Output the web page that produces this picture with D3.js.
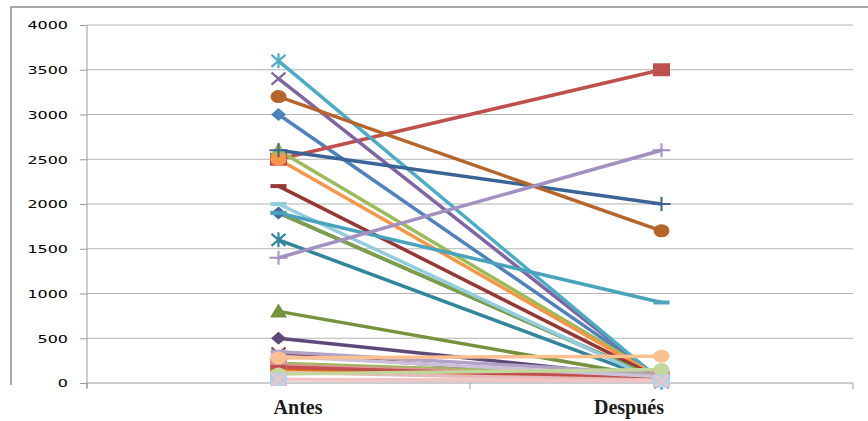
<!DOCTYPE html>
<html>
<head>
<meta charset="utf-8">
<script src="https://cdn.jsdelivr.net/npm/d3@7"></script>
<style>
  body { margin: 0; background: #fff; }
  svg { display: block; }
</style>
</head>
<body>
<svg id="chart" width="868" height="421"></svg>
<script>
// Categories on the x axis
const periods = ["Antes", "Después"];
// Value axis ticks
const yTicks = [0, 500, 1000, 1500, 2000, 2500, 3000, 3500, 4000];

// One entry per series: value before and after
const antes   = [3000, 2500, 2600, 3400, 3600, 2500, 2600, 2200, 1900, 500, 1600, 3200, 1900, 2000, 1900, 1400, 800, 330, 350, 220, 200, 150, 180, 120, 300, 100, 280, 40, 40];
const despues = [  40, 3500,   60,   30,   20,   50, 2000,   40,   30,  50,   10, 1700,   30,    0,  900, 2600,  50,  20, 100,  80,  60,  40,  50,  30,  70, 150, 300, 20, 25];
const colors  = ["#4F81BD", "#C0504D", "#9BBB59", "#8064A2", "#4BACC6", "#F79646",
                 "#3A6396", "#953735", "#3E6AA0", "#5F497A", "#31859C", "#B5652A",
                 "#7F9F45", "#93CDDD", "#4AA3BC", "#A390C2", "#76923C", "#8E3B3B",
                 "#B3A2C7", "#9BBB59", "#D99694", "#E46C0A", "#C0504D", "#E6B9B8",
                 "#CCC0DA", "#C3D69B", "#FAC090", "#B7D0E8", "#F2C4C2"];
const markers = ["diamond", "square", "triangle", "x", "star", "circle",
                 "plus", "dash", "diamond", "diamond", "star", "circle",
                 "dash", "dash", "dash", "plus", "triangle", "x",
                 "dash", "dash", "square", "dash", "dash", "dash",
                 "dash", "circle", "circle", "square", "x"];

const svg = d3.select("#chart");
const plot = { left: 87, right: 853, top: 25, bottom: 383 };

const x = d3.scalePoint().domain(periods).range([plot.left, plot.right]).padding(0.5);
const y = d3.scaleLinear().domain([0, 4000]).range([plot.bottom, plot.top]);

// Outer chart frame (left and top edges)
svg.append("path")
  .attr("d", "M11,385 L11,7 L868,7")
  .attr("fill", "none")
  .attr("stroke", "#8c8c8c")
  .attr("stroke-width", 1.5);

// Horizontal gridlines
svg.append("g")
  .selectAll("line")
  .data(yTicks.filter(d => d > 0))
  .join("line")
  .attr("x1", plot.left).attr("x2", plot.right)
  .attr("y1", d => y(d)).attr("y2", d => y(d))
  .attr("stroke", "#b4b4b4")
  .attr("stroke-width", 1.2);

// Value axis
const yAxis = svg.append("g")
  .attr("transform", `translate(${plot.left},0)`)
  .call(d3.axisLeft(y).tickValues(yTicks).tickFormat(d3.format("d")).tickSize(7).tickPadding(0));
yAxis.select(".domain").attr("stroke", "#9a9a9a").attr("d", `M0,${plot.top}V${plot.bottom + 5}`);
yAxis.selectAll(".tick line").attr("stroke", "#9a9a9a");
yAxis.selectAll(".tick text")
  .attr("x", -19 / 1.45)
  .attr("dy", "0.36em")
  .attr("transform", "scale(1.45,1)")
  .attr("fill", "#000")
  .style("font-family", "'DejaVu Sans', Verdana, sans-serif")
  .style("font-size", "11px");

// Category axis
const xAxis = svg.append("g")
  .attr("transform", `translate(0,${plot.bottom})`)
  .call(d3.axisBottom(x).tickSize(0).tickPadding(0));
xAxis.select(".domain").attr("stroke", "#9a9a9a").attr("d", `M${plot.left},0H${plot.right}`);
// Boundary tick marks between categories
xAxis.append("g").selectAll("line")
  .data([plot.left, (plot.left + plot.right) / 2, plot.right])
  .join("line")
  .attr("x1", d => d).attr("x2", d => d)
  .attr("y1", 0).attr("y2", 6)
  .attr("stroke", "#9a9a9a");
const labelShift = { "Antes": 19, "Después": -33 };
xAxis.selectAll(".tick text")
  .attr("y", 0)
  .attr("dy", 31)
  .attr("dx", d => labelShift[d])
  .attr("fill", "#1a1a1a")
  .style("font-family", "'Liberation Serif', 'Times New Roman', serif")
  .style("font-weight", "bold")
  .style("font-size", "20px");

// Series lines and markers
const series = antes.map((a, i) => ({ values: [a, despues[i]], color: colors[i], marker: markers[i] }));

const line = d3.line().x((d, i) => x(periods[i])).y(d => y(d));

function drawMarker(g, type, color) {
  switch (type) {
    case "diamond":
      g.append("path").attr("d", "M0,-6.5L7.5,0L0,6.5L-7.5,0Z").attr("fill", color);
      break;
    case "square":
      g.append("rect").attr("x", -8.5).attr("y", -6.5).attr("width", 17).attr("height", 13).attr("fill", color);
      break;
    case "triangle":
      g.append("path").attr("d", "M0,-8L8.5,6L-8.5,6Z").attr("fill", color);
      break;
    case "circle":
      g.append("ellipse").attr("rx", 8).attr("ry", 6.5).attr("fill", color);
      break;
    case "x":
      g.append("path").attr("d", "M-7,-6L7,6M-7,6L7,-6")
        .attr("stroke", color).attr("stroke-width", 2.2).attr("fill", "none");
      break;
    case "star":
      g.append("path").attr("d", "M-7,-6L7,6M-7,6L7,-6M0,-7.5L0,7.5")
        .attr("stroke", color).attr("stroke-width", 2.2).attr("fill", "none");
      break;
    case "plus":
      g.append("path").attr("d", "M-9,0L9,0M0,-7L0,7")
        .attr("stroke", color).attr("stroke-width", 2).attr("fill", "none");
      break;
    case "dash":
      g.append("rect").attr("x", -8).attr("y", -2).attr("width", 16).attr("height", 4).attr("fill", color);
      break;
  }
}

// All lines first, then the markers on top
svg.append("g").selectAll("path")
  .data(series)
  .join("path")
  .attr("d", s => line(s.values))
  .attr("fill", "none")
  .attr("stroke", s => s.color)
  .attr("stroke-width", 3.5)
  .attr("stroke-linejoin", "round");

svg.append("g").selectAll("g")
  .data(series)
  .join("g")
  .each(function (s) {
    const g = d3.select(this);
    s.values.forEach((v, i) => {
      const mg = g.append("g").attr("transform", `translate(${x(periods[i])},${y(v)})`);
      drawMarker(mg, s.marker, s.color);
    });
  });
</script>
</body>
</html>
